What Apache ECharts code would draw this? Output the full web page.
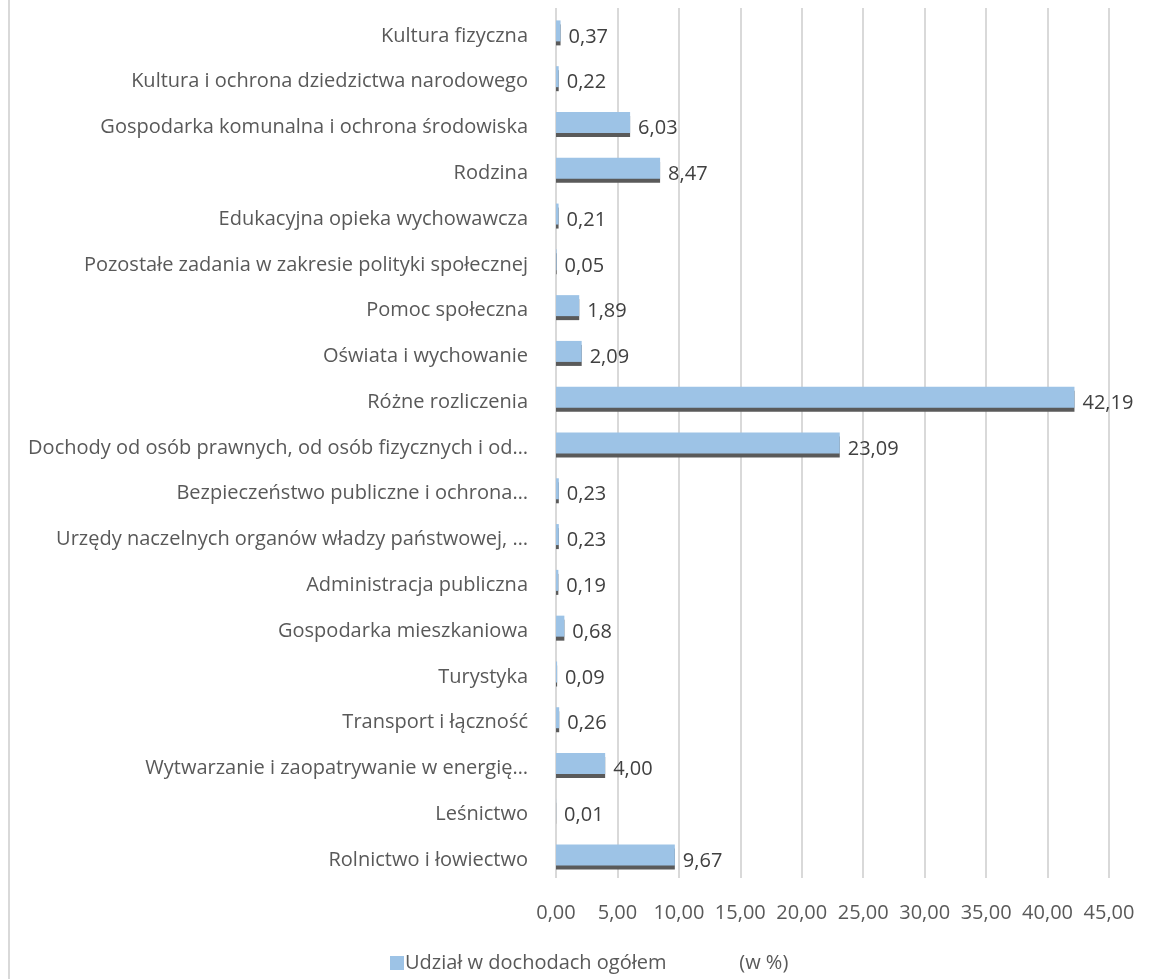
<!DOCTYPE html>
<html>
<head>
<meta charset="utf-8">
<script src="https://cdn.jsdelivr.net/npm/echarts@6/dist/echarts.min.js"></script>
<style>
  html, body { margin: 0; padding: 0; background: #fff; }
  #chart { width: 1157px; height: 979px; }
</style>
</head>
<body>
<div id="chart"></div>
<script>
// kategorie od góry do dołu
const categories = [
  'Kultura fizyczna',
  'Kultura i ochrona dziedzictwa narodowego',
  'Gospodarka komunalna i ochrona środowiska',
  'Rodzina',
  'Edukacyjna opieka wychowawcza',
  'Pozostałe zadania w zakresie polityki społecznej',
  'Pomoc społeczna',
  'Oświata i wychowanie',
  'Różne rozliczenia',
  'Dochody od osób prawnych, od osób fizycznych i od…',
  'Bezpieczeństwo publiczne i ochrona…',
  'Urzędy naczelnych organów władzy państwowej, …',
  'Administracja publiczna',
  'Gospodarka mieszkaniowa',
  'Turystyka',
  'Transport i łączność',
  'Wytwarzanie i zaopatrywanie w energię…',
  'Leśnictwo',
  'Rolnictwo i łowiectwo'
]
const shares = [0.37, 0.22, 6.03, 8.47, 0.21, 0.05, 1.89, 2.09, 42.19, 23.09, 0.23, 0.23, 0.19, 0.68, 0.09, 0.26, 4.00, 0.01, 9.67]
const seriesName = 'Udział w dochodach ogółem              (w %)'
const xMin = 0, xMax = 45, xStep = 5

const fmt = v => Number(v).toFixed(2).replace('.', ',')
const font = 'Open Sans'

const chart = echarts.init(document.getElementById('chart'))
chart.setOption({
  animation: false,
  textStyle: { fontFamily: font },
  grid: { left: 556, right: 48, top: 8, bottom: 101 },
  graphic: [{
    type: 'rect',
    shape: { x: 8, y: 0, width: 2, height: 979 },
    style: { fill: '#d9d9d9' }
  }],
  legend: {
    left: 385, top: 948,
    icon: 'rect', itemWidth: 14, itemHeight: 14, itemGap: 6,
    itemStyle: { shadowColor: 'transparent', shadowOffsetY: 0 },
    textStyle: { fontFamily: font, fontSize: 20, color: '#595959', padding: [0, 0, 0, -4] }
  },
  xAxis: {
    type: 'value', min: xMin, max: xMax, interval: xStep,
    axisLine: { show: false }, axisTick: { show: false },
    axisLabel: { formatter: fmt, fontSize: 20, color: '#595959', margin: 25 },
    splitLine: { lineStyle: { color: '#d9d9d9', width: 2 } }
  },
  yAxis: {
    type: 'category', inverse: true, data: categories,
    axisLine: { show: false }, axisTick: { show: false },
    axisLabel: {
      margin: 28,
      formatter: v => '{c|' + v + '}',
      rich: { c: { fontFamily: font, fontSize: 20, color: '#595959', padding: [10, 0, 0, 0] } }
    }
  },
  series: [{
    name: seriesName,
    type: 'bar',
    data: shares,
    barWidth: 21,
    itemStyle: {
      color: '#9dc3e6',
      shadowColor: '#5a5a5a', shadowOffsetY: 4, shadowBlur: 0
    },
    label: {
      show: true, position: 'right', distance: 8, offset: [0, 6],
      formatter: p => fmt(p.value),
      fontSize: 20, color: '#404040'
    }
  }]
})
</script>
</body>
</html>
